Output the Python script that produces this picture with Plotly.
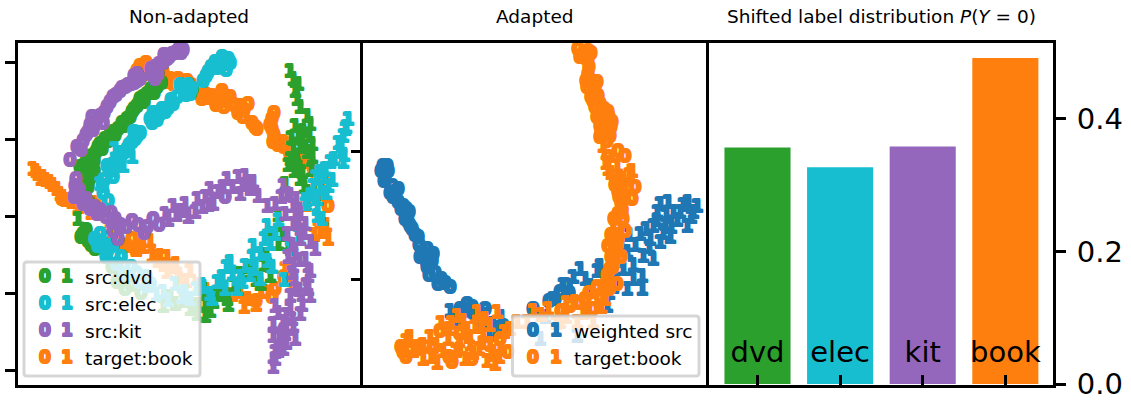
import plotly.graph_objects as go

# ---- Non-adapted panel (arbitrary embedding units)
kit_zero_x = [54,61,67,72,76,79,84,91,97,104,109,115,121,121,139,139,139,151,156,161,167,59,60,62,99,97,102,116,137,131,67,74,81,209,65,70,74,77,81,87,88,94,100,106,112,118,124,118,135,142,136,143,147,148,153,159,163,165,58,63,70,78,84,90,104,110,122,143,128,96,95]
kit_zero_y = [225,238,244,253,268,261,269,278,288,294,298,301,304,311,313,306,318,326,331,333,335,199,206,191,166,154,146,164,166,158,181,176,171,188,235,250,260,255,265,262,272,283,290,297,300,302,306,309,316,311,310,321,322,330,328,332,336,332,188,195,186,178,175,168,160,158,160,160,152,162,172]
kit_one_x = [149,157,164,169,181,179,189,194,197,202,211,222,229,224,234,237,251,259,267,271,277,269,284,277,271,289,294,284,299,279,289,277,294,279,292,294,274,279,259,274,284,267,257,277,257,269,267,279,259,267,257,259,152,160,172,186,192,207,216,226,232,242,274,280,265,282,288,276,283,272,290,283,276,286,292,270,262,268,276,263,270,262]
kit_one_y = [171,179,174,181,186,173,188,196,181,193,206,208,209,191,196,203,179,181,199,191,179,171,171,161,151,161,143,146,136,131,126,119,114,106,109,89,89,96,79,76,71,63,61,59,49,51,43,46,33,36,18,26,165,170,168,178,180,198,198,200,203,189,190,186,188,165,152,140,125,128,100,95,112,80,96,70,72,55,66,48,42,34]
dvd_zero_x = [69,76,82,84,89,97,102,111,116,121,124,131,141,76,72,67,72,79,101,109,74,64,71,78,80,86,92,94,99,106,108,114,118,123,127,128,135,138,145,70,78,73,68,65,70,75,82,90,96,104,115,125]
dvd_zero_y = [221,229,238,241,246,253,256,266,273,279,286,291,298,209,198,151,144,136,103,96,216,218,225,224,233,236,244,250,250,262,259,268,276,282,288,283,296,292,302,212,214,205,201,148,155,140,138,130,118,110,100,92]
dvd_one_x = [274,277,282,279,281,284,291,294,279,282,286,296,291,277,274,281,286,284,291,269,254,244,234,224,254,262,211,202,197,189,189,187,147,159,174,181,62,72,287,293,275,284,296,289,280,295,278,272,240,232,218,248,266,206,194,192,182,168,154,262,250,212,272,288]
dvd_one_y = [314,306,301,294,286,278,269,261,259,251,246,241,233,236,226,221,213,206,193,201,109,101,113,111,151,141,86,91,83,69,81,96,79,81,76,71,166,191,254,249,247,240,228,238,228,215,214,220,105,118,100,120,150,90,74,90,80,84,88,170,130,80,140,198]
elec_zero_x = [86,91,97,97,101,106,111,116,121,134,139,144,149,157,161,172,167,174,187,192,197,204,212,209,79,84,87,91,94,101,109,124,134,88,94,100,104,109,113,119,124,118,136,137,141,146,152,155,170,176,164,172,190,195,199,201,206,214,210,82,90,97,105,115,120,130,87,92]
elec_zero_y = [199,219,208,221,226,231,236,243,249,266,268,271,273,281,288,294,298,291,304,313,318,323,326,321,146,151,141,133,138,121,111,103,101,205,214,222,226,233,240,246,252,253,262,272,265,276,277,285,290,296,300,300,309,318,323,317,328,322,315,139,128,140,128,118,112,108,192,184]
elec_one_x = [332,329,327,325,324,327,314,309,304,312,297,304,301,301,301,251,259,254,237,244,229,239,252,274,214,216,224,201,209,187,169,147,131,159,174,194,221,289,84,99,107,330,322,328,318,308,310,300,295,306,316,290,262,248,256,236,226,244,210,206,196,180,152,140,166,186,234,268,282,272,103,116]
elec_one_y = [266,256,249,239,233,223,223,216,213,199,199,196,186,176,169,159,151,141,139,131,119,116,124,136,123,111,108,103,96,98,93,93,99,101,86,91,96,181,201,236,219,258,242,230,226,208,192,208,190,166,205,185,165,146,118,128,103,106,118,108,86,96,85,90,88,100,110,105,150,128,232,228]
book_zero_x = [124,121,134,147,154,162,171,179,189,196,204,206,214,224,232,227,239,256,256,257,267,274,291,312,97,104,111,116,46,249,259,274,127,130,139,144,150,158,166,175,183,186,192,200,208,205,210,218,222,228,236,241,254,258,262,268,272,280,285,258,100,108,120,125,240,256,268,298,308,100]
book_zero_y = [319,314,318,313,306,306,304,298,291,289,284,294,288,279,281,268,258,266,256,243,243,231,223,179,144,141,139,146,186,93,96,113,310,322,309,305,303,300,302,300,296,286,287,280,278,290,284,280,272,275,262,256,260,250,240,238,236,228,225,272,150,138,135,150,84,88,108,214,205,160]
book_one_x = [17,22,27,34,41,44,56,92,94,134,127,144,136,151,151,164,174,160,232,224,269,312,304,302,294,306,296,20,25,30,37,47,50,62,85,80,120,142,148,156,170,182,190,200,216,240,228,276,298,310,290,300,66,75]
book_one_y = [216,211,208,203,196,191,183,174,164,144,138,129,129,128,113,106,114,121,86,93,116,146,153,166,186,191,221,214,206,205,200,188,185,178,178,182,135,124,120,118,104,100,95,92,90,80,78,100,150,160,180,195,180,172]

# ---- Adapted panel
src_zero_x = [22,24,27,31,37,32,42,37,48,44,49,57,61,66,72,66,71,77,89,106,99,124,111,129,142,172,199,194,20,26,23,29,34,40,45,47,51,54,58,63,59,69,65,74,68,80,84,103,112,118,205,208,188]
src_zero_y = [219,209,214,199,196,188,179,183,173,166,159,148,133,136,131,118,124,101,98,81,76,76,78,61,59,76,93,86,214,219,204,192,193,176,176,163,156,150,140,128,128,130,124,112,110,106,102,74,72,70,100,92,84]
src_one_x = [89,119,134,179,216,184,212,219,229,224,246,239,262,266,254,281,266,281,282,292,279,289,299,309,292,304,296,312,326,332,307,319,327,336,299,96,128,122,140,192,202,208,236,248,256,272,274,288,285,296,302,316,322,330,272,310,305,242,268,260,252]
src_one_y = [74,61,53,46,49,68,108,116,99,106,79,119,116,96,106,96,133,109,129,126,151,146,143,148,159,161,173,173,159,173,183,173,183,179,181,66,50,70,68,86,100,92,114,92,124,106,140,138,156,165,152,165,180,168,120,158,170,106,150,142,98]
tgt_zero_x = [217,222,227,227,227,225,236,232,237,234,239,247,244,251,239,249,239,247,247,257,264,256,274,271,257,261,257,261,256,264,252,247,257,249,252,246,256,239,224,209,232,79,42,72,91,111,99,139,147,219,224,230,228,226,234,230,236,240,236,232,243,248,250,242,246,240,244,254,258,260,253,262,250,254,256,255,260,252,250,246,248,243,236,228,218,200,40,45,88]
tgt_zero_y = [336,331,334,326,311,304,303,294,289,278,281,273,266,263,259,249,248,256,228,234,229,204,198,186,193,176,171,173,159,154,143,139,146,116,124,103,101,89,86,79,76,54,33,36,23,26,51,46,33,328,327,332,318,298,298,288,284,270,268,284,276,268,258,252,244,254,262,200,188,182,166,166,150,150,140,132,128,118,128,110,96,94,98,92,82,74,38,28,28]
tgt_one_x = [242,247,256,271,264,261,239,244,214,187,172,199,216,232,166,156,149,136,116,124,96,106,114,122,129,139,69,49,57,62,82,99,126,134,132,109,87,245,250,262,266,268,225,205,195,180,205,222,240,143,128,120,108,102,90,80,75,62,45,52,70,95,104,118,138,122,112,98,88,76,130]
tgt_one_y = [239,216,219,214,196,181,96,86,83,76,74,63,63,63,63,63,56,73,73,66,69,56,58,49,41,36,48,48,38,26,34,36,24,21,33,41,46,222,212,206,188,210,74,68,62,70,82,72,78,53,60,60,48,64,62,62,40,40,44,34,28,34,26,36,28,42,32,44,56,22,30]

# ---- Label distribution panel
domains = ["dvd", "elec", "kit", "book"]
p_label_zero = [0.357, 0.327, 0.3585, 0.492]

left_yticks = [16, 93, 170, 247, 324]
mid_yticks = [107, 234.5]
right_yticks = [0.0, 0.2, 0.4]

GREEN, CYAN, PURPLE, ORANGE, BLUE = "#2ca02c", "#17becf", "#9467bd", "#ff7f0e", "#1f77b4"
FONT = "DejaVu Sans"
W, H = 1131, 402
TOP, BOTTOM = 43.0, 385.0
P1 = (17.5, 360.0)
P2 = (363.0, 706.0)
P3 = (709.0, 1053.0)


def px(x):
    return x / W


def py(y):
    return 1 - y / H


def halo(color, r=1.0):
    return ", ".join(f"{a}px {b}px 0 {color}" for a, b in [(r, 0), (-r, 0), (0, r), (0, -r), (r, r), (-r, -r), (r, -r), (-r, r)])


def glyphs(x, y, label, color, xa, ya):
    return go.Scatter(
        x=x, y=y, text=[label] * len(x), mode="text", textposition="middle center",
        textfont=dict(family=FONT, size=18, color=color, weight="bold", shadow=halo(color)),
        xaxis=xa, yaxis=ya, showlegend=False, hoverinfo="skip",
    )


fig = go.Figure()
for zx, zy, ox, oy, c in [
    (book_zero_x, book_zero_y, book_one_x, book_one_y, ORANGE),
    (dvd_zero_x, dvd_zero_y, dvd_one_x, dvd_one_y, GREEN),
    (elec_zero_x, elec_zero_y, elec_one_x, elec_one_y, CYAN),
    (kit_zero_x, kit_zero_y, kit_one_x, kit_one_y, PURPLE),
]:
    fig.add_trace(glyphs(zx, zy, "0", c, "x", "y"))
    fig.add_trace(glyphs(ox, oy, "1", c, "x", "y"))
for zx, zy, ox, oy, c in [
    (src_zero_x, src_zero_y, src_one_x, src_one_y, BLUE),
    (tgt_zero_x, tgt_zero_y, tgt_one_x, tgt_one_y, ORANGE),
]:
    fig.add_trace(glyphs(zx, zy, "0", c, "x2", "y2"))
    fig.add_trace(glyphs(ox, oy, "1", c, "x2", "y2"))
fig.add_trace(go.Bar(x=domains, y=p_label_zero, marker=dict(color=[GREEN, CYAN, PURPLE, ORANGE], line=dict(width=0)),
                     width=0.8, xaxis="x3", yaxis="y3", showlegend=False, hoverinfo="skip"))

frame = dict(showline=True, linecolor="black", linewidth=3, mirror=True, showgrid=False, zeroline=False, automargin=False)
layout = dict(
    width=W, height=H, margin=dict(l=0, r=0, t=0, b=0, autoexpand=False), paper_bgcolor="white", plot_bgcolor="white",
    font=dict(family=FONT, color="black"), showlegend=False,
    xaxis=dict(domain=[px(P1[0]), px(P1[1])], range=[1.5, 344], anchor="y", ticks="", showticklabels=False, **frame),
    yaxis=dict(domain=[py(BOTTOM), py(TOP)], range=[1, 343], anchor="x", tickmode="array", tickvals=left_yticks,
               ticks="outside", ticklen=10, tickwidth=3, tickcolor="black", showticklabels=False, **frame),
    xaxis2=dict(domain=[px(P2[0]), px(P2[1])], range=[2, 345], anchor="y2", ticks="", showticklabels=False, **frame),
    yaxis2=dict(domain=[py(BOTTOM), py(TOP)], range=[1, 343], anchor="x2", tickmode="array", tickvals=mid_yticks,
                ticks="outside", ticklen=9, tickwidth=3, tickcolor="black", showticklabels=False, **frame),
    xaxis3=dict(domain=[px(P3[0]), px(P3[1])], range=[-0.587, 3.577], anchor="y3", type="category", categoryorder="array",
                categoryarray=domains, ticks="inside", ticklen=10, tickwidth=3, tickcolor="black",
                ticklabelstandoff=-61, tickfont=dict(size=29, family=FONT, color="black"), **frame),
    yaxis3=dict(domain=[py(BOTTOM), py(TOP)], range=[-0.0015, 0.5145], anchor="x3", side="right", tickmode="array",
                tickvals=right_yticks, ticktext=["0.0", "0.2", "0.4"], ticks="outside", ticklen=10, tickwidth=3,
                ticklabelstandoff=5, tickcolor="black", tickfont=dict(size=29, family=FONT, color="black"), **frame),
)


def rounded(x0, y0, x1, y1, r=3):
    return (f"M{px(x0+r)},{py(y0)} L{px(x1-r)},{py(y0)} Q{px(x1)},{py(y0)} {px(x1)},{py(y0+r)} "
            f"L{px(x1)},{py(y1-r)} Q{px(x1)},{py(y1)} {px(x1-r)},{py(y1)} "
            f"L{px(x0+r)},{py(y1)} Q{px(x0)},{py(y1)} {px(x0)},{py(y1-r)} "
            f"L{px(x0)},{py(y0+r)} Q{px(x0)},{py(y0)} {px(x0+r)},{py(y0)} Z")


box_style = dict(type="path", xref="paper", yref="paper", fillcolor="rgba(255,255,255,0.8)",
                 line=dict(color="rgba(204,204,204,0.8)", width=3), layer="above")
layout["shapes"] = [
    dict(path=rounded(24, 262, 200, 376), **box_style),
    dict(path=rounded(512.5, 316, 699, 376), **box_style),
]

ann = []


def label(x, y, text, size, color="black", anchor="left", shadow=None, bold=False):
    f = dict(family=FONT, size=size, color=color)
    if shadow:
        f["shadow"] = shadow
    if bold:
        f["weight"] = "bold"
    ann.append(dict(x=px(x), y=py(y), xref="paper", yref="paper", text=text, showarrow=False, font=f,
                    xanchor=anchor, yanchor="middle", align="left", borderpad=0))


for i, (name, c) in enumerate([("src:dvd", GREEN), ("src:elec", CYAN), ("src:kit", PURPLE), ("target:book", ORANGE)]):
    y = [277, 304, 331, 358][i]
    label(44.5, y - 1, "0", 17, c, "center", halo(c, 0.8), True)
    label(67, y - 1, "1", 17, c, "center", halo(c, 0.8), True)
    label(84, y, name, 18.5)
for i, (name, c) in enumerate([("weighted src", BLUE), ("target:book", ORANGE)]):
    y = [331, 358][i]
    label(532.5, y - 1, "0", 17, c, "center", halo(c, 0.8), True)
    label(555.5, y - 1, "1", 17, c, "center", halo(c, 0.8), True)
    label(573, y, name, 18.5)
label(188.5, 16, "Non-adapted", 18.5, anchor="center")
label(535, 16, "Adapted", 18.5, anchor="center")
label(881, 16, "Shifted label distribution <i>P</i>(<i>Y</i> = 0)", 18.5, anchor="center")
layout["annotations"] = ann

fig.update_layout(**layout)
fig.write_html("out.html", config={"displayModeBar": False}, post_script="document.body.style.margin='0';")
